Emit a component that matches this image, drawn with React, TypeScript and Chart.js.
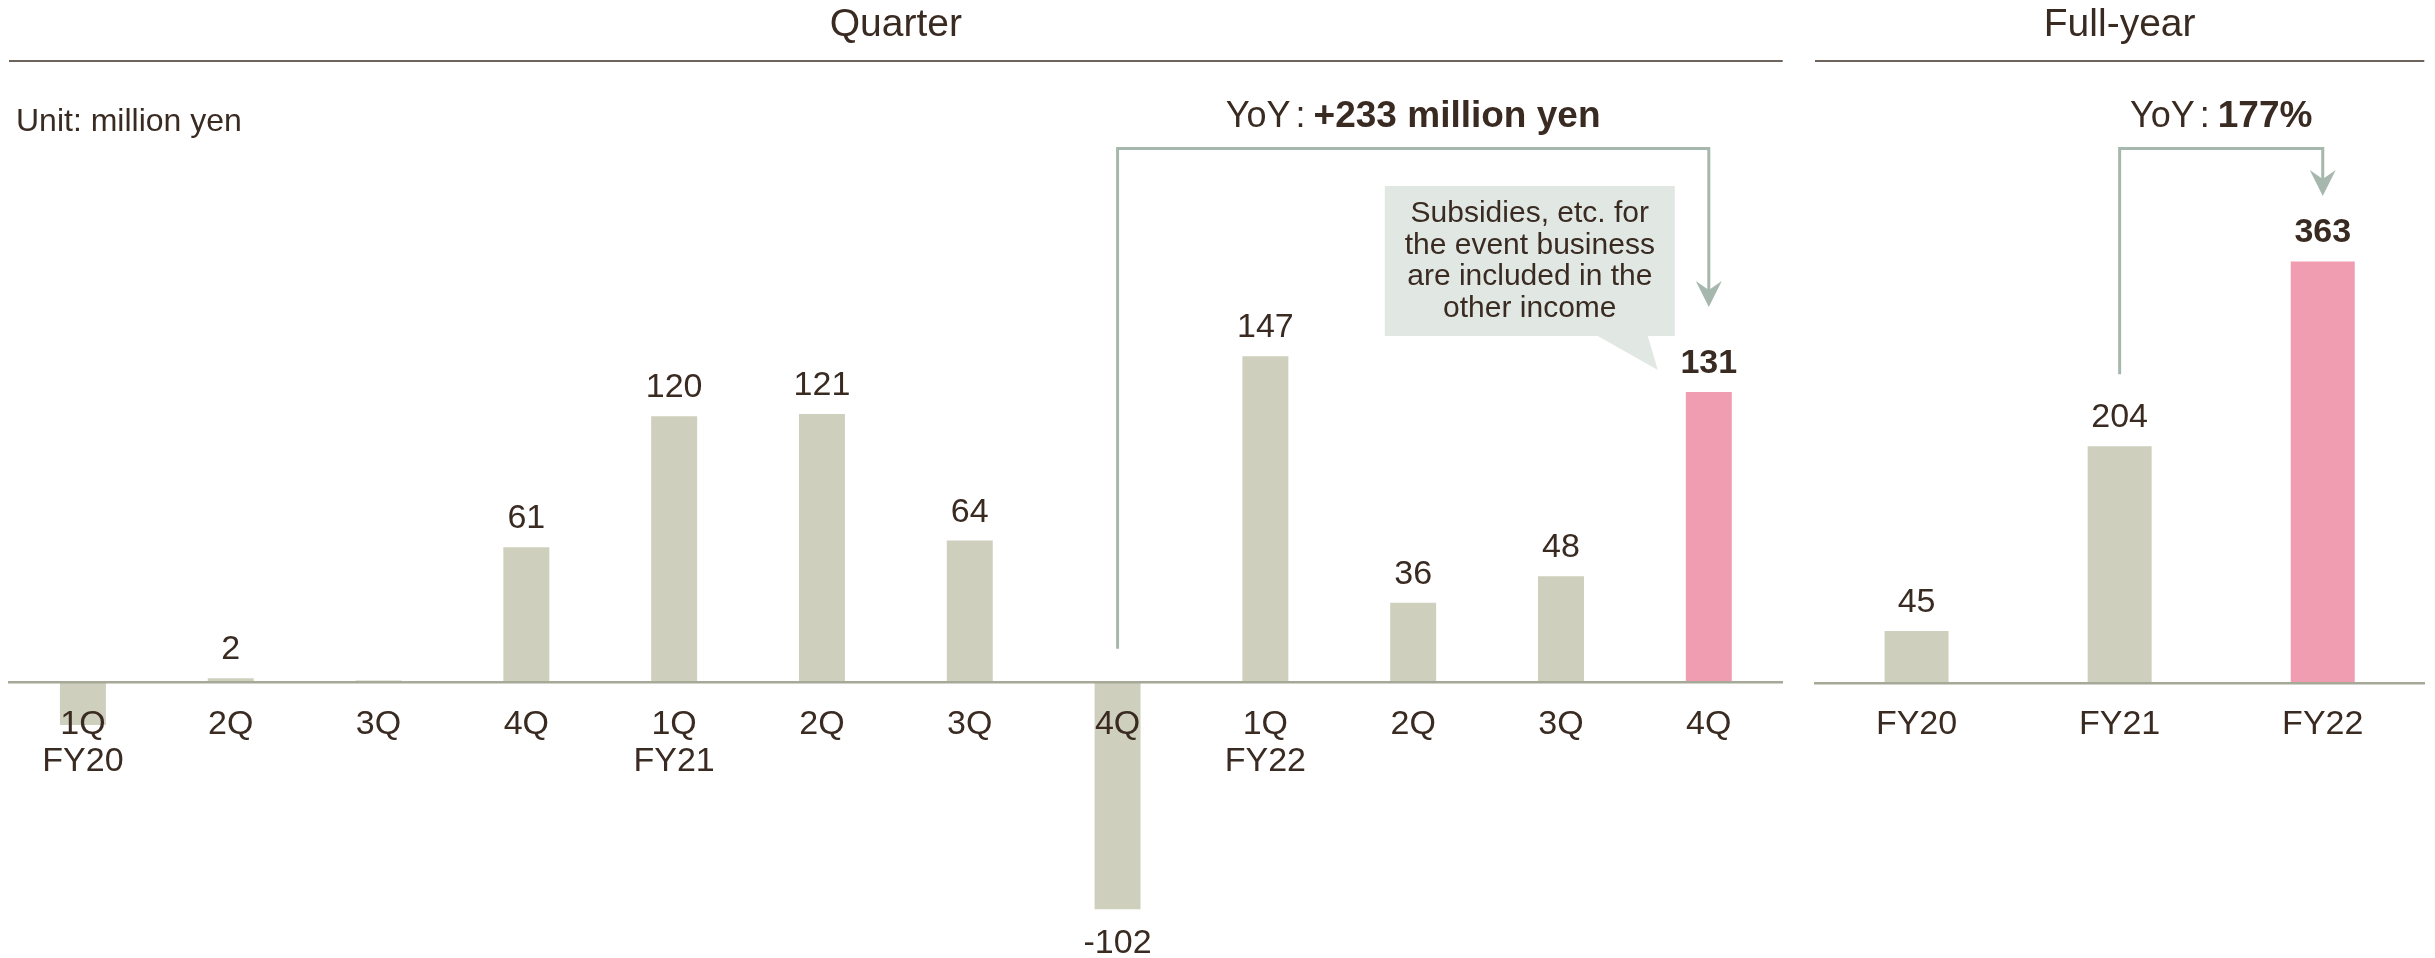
import React, { useEffect, useRef } from 'react';
import { Chart, registerables } from 'chart.js';

Chart.register(...registerables);

// ---------- data ----------
const quarterCategories: (string | string[])[] = [
  ['1Q', 'FY20'], '2Q', '3Q', '4Q',
  ['1Q', 'FY21'], '2Q', '3Q', '4Q',
  ['1Q', 'FY22'], '2Q', '3Q', '4Q',
];
const quarterValues = [-19, 2, 1, 61, 120, 121, 64, -102, 147, 36, 48, 131];
const quarterShowLabel = [false, true, false, true, true, true, true, true, true, true, true, true];
const quarterHighlight = [false, false, false, false, false, false, false, false, false, false, false, true];

const yearCategories = ['FY20', 'FY21', 'FY22'];
const yearValues = [45, 204, 363];
const yearShowLabel = [true, true, true];
const yearHighlight = [false, false, true];

const quarterYoYText = '+233 million yen';
const yearYoYText = '177%';
const calloutLines = ['Subsidies, etc. for', 'the event business', 'are included in the', 'other income'];

// ---------- style ----------
const FONT = "'Liberation Sans', Arial, sans-serif";
const TEXT = '#3a2b22';
const GRAY = '#cecfbc';
const PINK = '#f09cb1';
const AXIS = '#a6a898';
const HEAD_LINE = '#6d645d';
const BRACKET = '#a6b8ad';
const CALLOUT = '#e1e7e3';

function drawYoY(ctx: CanvasRenderingContext2D, cx: number, baseline: number, boldText: string) {
  ctx.save();
  ctx.fillStyle = TEXT;
  ctx.textBaseline = 'alphabetic';
  ctx.textAlign = 'left';
  const reg = `36px ${FONT}`;
  const bold = `bold 37px ${FONT}`;
  ctx.font = reg;
  const w1 = ctx.measureText('YoY').width;
  const wc = ctx.measureText(':').width;
  ctx.font = bold;
  const w2 = ctx.measureText(boldText).width;
  const g1 = 5, g2 = 8;
  const total = w1 + g1 + wc + g2 + w2;
  let x = cx - total / 2;
  ctx.font = reg;
  ctx.fillText('YoY', x, baseline);
  x += w1 + g1;
  ctx.fillText(':', x, baseline);
  x += wc + g2;
  ctx.font = bold;
  ctx.fillText(boldText, x, baseline);
  ctx.restore();
}

function drawBracket(ctx: CanvasRenderingContext2D, x1: number, yStem: number, yTop: number, x2: number, yTip: number) {
  ctx.save();
  ctx.strokeStyle = BRACKET;
  ctx.lineWidth = 3;
  ctx.lineJoin = 'miter';
  ctx.beginPath();
  ctx.moveTo(x1, yStem);
  ctx.lineTo(x1, yTop);
  ctx.lineTo(x2, yTop);
  ctx.lineTo(x2, yTip - 14);
  ctx.stroke();
  ctx.fillStyle = BRACKET;
  ctx.beginPath();
  ctx.moveTo(x2, yTip);
  ctx.lineTo(x2 - 13, yTip - 26);
  ctx.lineTo(x2, yTip - 17);
  ctx.lineTo(x2 + 13, yTip - 26);
  ctx.closePath();
  ctx.fill();
  ctx.restore();
}

function drawHeader(ctx: CanvasRenderingContext2D, left: number, right: number, text: string) {
  ctx.save();
  ctx.strokeStyle = HEAD_LINE;
  ctx.lineWidth = 2;
  ctx.beginPath();
  ctx.moveTo(left, 61);
  ctx.lineTo(right, 61);
  ctx.stroke();
  ctx.fillStyle = TEXT;
  ctx.font = `39px ${FONT}`;
  ctx.textAlign = 'center';
  ctx.textBaseline = 'alphabetic';
  ctx.fillText(text, (left + right) / 2, 36);
  ctx.restore();
}

function makeLabelPlugin(show: boolean[], bold: boolean[]) {
  return {
    id: 'valueLabels',
    afterDatasetsDraw(chart: any) {
      const ctx: CanvasRenderingContext2D = chart.ctx;
      const meta = chart.getDatasetMeta(0);
      const data = chart.data.datasets[0].data as number[];
      meta.data.forEach((bar: any, i: number) => {
        if (!show[i]) return;
        const v = data[i];
        const p = bar.getProps(['x', 'y', 'base'], true);
        ctx.save();
        ctx.font = `${bold[i] ? 'bold ' : ''}34px ${FONT}`;
        ctx.fillStyle = TEXT;
        ctx.textAlign = 'center';
        ctx.textBaseline = 'alphabetic';
        const y = v >= 0 ? p.y - 19 : p.y + 44;
        ctx.fillText(String(v), p.x, y);
        ctx.restore();
      });
    },
  };
}

const quarterOverlay = {
  id: 'quarterOverlay',
  afterDraw(chart: any) {
    const ctx: CanvasRenderingContext2D = chart.ctx;
    const area = chart.chartArea;
    drawHeader(ctx, area.left, area.right, 'Quarter');

    ctx.save();
    ctx.fillStyle = TEXT;
    ctx.font = `32px ${FONT}`;
    ctx.textAlign = 'left';
    ctx.textBaseline = 'alphabetic';
    ctx.fillText('Unit: million yen', 16, 131);
    ctx.restore();

    const meta = chart.getDatasetMeta(0);
    const from = meta.data[7].getProps(['x', 'y', 'base'], true);
    const to = meta.data[11].getProps(['x', 'y', 'base'], true);
    drawBracket(ctx, from.x, from.base - 34, 148.5, to.x, 307);
    drawYoY(ctx, (from.x + to.x) / 2, 127, quarterYoYText);

    // callout
    const cx = to.x;
    const bl = cx - 324, br = cx - 34, bt = 186, bb = 336;
    ctx.save();
    ctx.fillStyle = CALLOUT;
    ctx.beginPath();
    ctx.moveTo(bl, bt);
    ctx.lineTo(br, bt);
    ctx.lineTo(br, bb);
    ctx.lineTo(cx - 61, bb);
    ctx.lineTo(cx - 51, 370);
    ctx.lineTo(cx - 111, bb);
    ctx.lineTo(bl, bb);
    ctx.closePath();
    ctx.fill();
    ctx.fillStyle = TEXT;
    ctx.font = `30px ${FONT}`;
    ctx.textAlign = 'center';
    ctx.textBaseline = 'alphabetic';
    calloutLines.forEach((line, i) => {
      ctx.fillText(line, (bl + br) / 2, 222 + i * 31.5);
    });
    ctx.restore();
  },
};

const yearOverlay = {
  id: 'yearOverlay',
  afterDraw(chart: any) {
    const ctx: CanvasRenderingContext2D = chart.ctx;
    const area = chart.chartArea;
    drawHeader(ctx, area.left, area.right, 'Full-year');
    const meta = chart.getDatasetMeta(0);
    const from = meta.data[1].getProps(['x', 'y', 'base'], true);
    const to = meta.data[2].getProps(['x', 'y', 'base'], true);
    drawBracket(ctx, from.x, from.y - 72, 148.5, to.x, 196);
    drawYoY(ctx, (from.x + to.x) / 2, 127, yearYoYText);
  },
};

export default function App() {
  const qRef = useRef<HTMLCanvasElement>(null);
  const yRef = useRef<HTMLCanvasElement>(null);

  useEffect(() => {
    const H = 958;
    // quarter chart: zero at 682.7, 2.22 px per unit
    const qMin = -110, qMax = 250, qPx = 2.22, qZero = 682.7;
    const qTop = qZero - qMax * qPx;
    const qBottom = qZero - qMin * qPx;
    const c1 = new Chart(qRef.current!, {
      type: 'bar',
      data: {
        labels: quarterCategories as any,
        datasets: [
          {
            data: quarterValues,
            backgroundColor: quarterValues.map((_, i) => (quarterHighlight[i] ? PINK : GRAY)),
            borderWidth: 0,
            barPercentage: 0.311,
            categoryPercentage: 1,
          },
        ],
      },
      options: {
        responsive: false,
        animation: false,
        devicePixelRatio: 1,
        layout: { padding: { left: 9, right: 1800 - 1782.7, top: qTop, bottom: H - qBottom } },
        plugins: { legend: { display: false }, tooltip: { enabled: false }, title: { display: false } },
        scales: {
          x: {
            position: { y: 0 } as any,
            grid: { display: false, drawTicks: false },
            border: { display: true, color: AXIS, width: 2.5, z: 1 } as any,
            ticks: {
              z: 1,
              color: TEXT,
              font: { family: FONT, size: 34, lineHeight: 37 / 34 },
              padding: 23,
              autoSkip: false,
              maxRotation: 0,
              minRotation: 0,
            },
          },
          y: { display: false, min: qMin, max: qMax },
        },
      },
      plugins: [makeLabelPlugin(quarterShowLabel, quarterHighlight), quarterOverlay],
    });

    // full-year chart: zero at 683.3, 1.162 px per unit
    const yMin = -50, yMax = 450, yPx = 1.162, yZero = 683.3;
    const yTop = yZero - yMax * yPx;
    const yBottom = yZero - yMin * yPx;
    const c2 = new Chart(yRef.current!, {
      type: 'bar',
      data: {
        labels: yearCategories,
        datasets: [
          {
            data: yearValues,
            backgroundColor: yearValues.map((_, i) => (yearHighlight[i] ? PINK : GRAY)),
            borderWidth: 0,
            barPercentage: 0.315,
            categoryPercentage: 1,
          },
        ],
      },
      options: {
        responsive: false,
        animation: false,
        devicePixelRatio: 1,
        layout: { padding: { left: 15, right: 635 - 624.3, top: yTop, bottom: H - yBottom } },
        plugins: { legend: { display: false }, tooltip: { enabled: false }, title: { display: false } },
        scales: {
          x: {
            position: { y: 0 } as any,
            grid: { display: false, drawTicks: false },
            border: { display: true, color: AXIS, width: 2.5, z: 1 } as any,
            ticks: {
              z: 1,
              color: TEXT,
              font: { family: FONT, size: 34, lineHeight: 37 / 34 },
              padding: 22.7,
              autoSkip: false,
              maxRotation: 0,
              minRotation: 0,
            },
          },
          y: { display: false, min: yMin, max: yMax },
        },
      },
      plugins: [makeLabelPlugin(yearShowLabel, yearHighlight), yearOverlay],
    });

    return () => {
      c1.destroy();
      c2.destroy();
    };
  }, []);

  return (
    <div style={{ position: 'absolute', left: 0, top: 0, width: 2435, height: 958, background: '#ffffff', overflow: 'hidden' }}>
      <canvas ref={qRef} width={1800} height={958} style={{ position: 'absolute', left: 0, top: 0, width: 1800, height: 958 }} />
      <canvas ref={yRef} width={635} height={958} style={{ position: 'absolute', left: 1800, top: 0, width: 635, height: 958 }} />
    </div>
  );
}
